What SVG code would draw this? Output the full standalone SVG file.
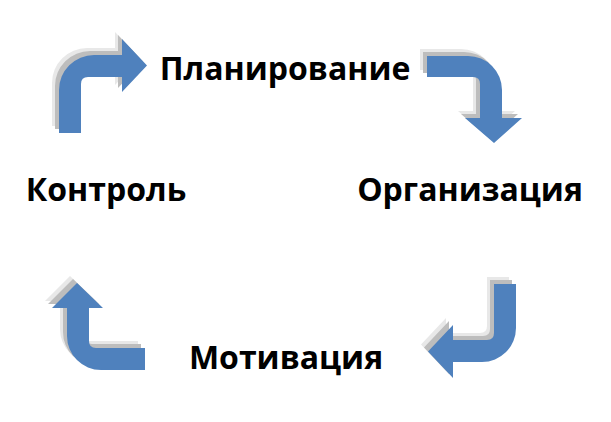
<svg xmlns="http://www.w3.org/2000/svg" width="611" height="422" viewBox="0 0 611 422">
<defs>
<style>
.lbl{font-family:"Open Sans","Noto Sans","Liberation Sans",sans-serif;font-weight:bold;font-size:32px;fill:#000;text-anchor:middle}
.arr{fill:#4f81bd}
.sh1{fill:#e8e8e8}
.sh2{fill:#bdbdbd}
</style>
<path id="a1" d="M 59 133 L 59 90 A 35 35 0 0 1 94 55 L 122 55 L 122 39 L 147 65.5 L 122 92 L 122 77 L 88 77 Q 81 77 81 84 L 81 133 Z"/>
<path id="a2" d="M 427 56 L 468 56 A 34 34 0 0 1 502 90 L 502 118 L 522 118 L 494 143 L 465 118 L 480 118 L 480 84 Q 480 77 473 77 L 427 77 Z"/>
<path id="a3" d="M 516 284 L 516 328 A 34 34 0 0 1 482 362 L 453 362 L 453 378 L 428 351.5 L 453 325 L 453 340 L 487 340 Q 494 340 494 333 L 494 284 Z"/>
<path id="a4" d="M 145 370 L 101 370 A 34 34 0 0 1 67 336 L 67 308 L 52 308 L 77 283 L 103 308 L 89 308 L 89 341 Q 89 348 96 348 L 145 348 Z"/>
</defs>
<g id="connectors">
<g id="arrow-plan-org">
<use href="#a2" class="sh1" transform="translate(-7,-7)"/>
<use href="#a2" class="sh2" transform="translate(-4,-4)"/>
<use href="#a2" class="arr"/>
</g>
<g id="arrow-org-mot">
<use href="#a3" class="sh1" transform="translate(-7,-7)"/>
<use href="#a3" class="sh2" transform="translate(-4,-4)"/>
<use href="#a3" class="arr"/>
</g>
<g id="arrow-mot-ctrl">
<use href="#a4" class="sh1" transform="translate(-7,-7)"/>
<use href="#a4" class="sh2" transform="translate(-4,-4)"/>
<use href="#a4" class="arr"/>
</g>
<g id="arrow-ctrl-plan">
<use href="#a1" class="sh1" transform="translate(-7,-7)"/>
<use href="#a1" class="sh2" transform="translate(-4,-4)"/>
<use href="#a1" class="arr"/>
</g>
</g>
<g id="node-plan"><text class="lbl" x="285" y="80">Планирование</text></g>
<g id="node-org"><text class="lbl" x="470" y="201">Организация</text></g>
<g id="node-mot"><text class="lbl" x="286" y="369">Мотивация</text></g>
<g id="node-ctrl"><text class="lbl" x="106" y="201">Контроль</text></g>
</svg>
